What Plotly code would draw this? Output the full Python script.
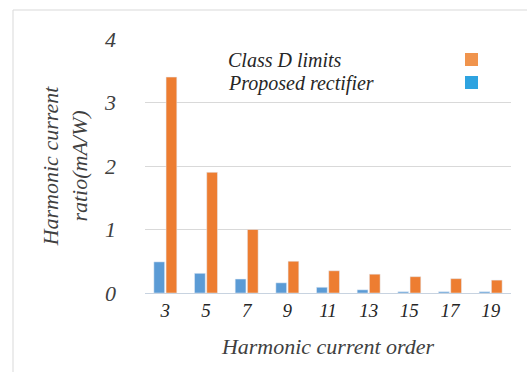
import plotly.graph_objects as go

orders = ["3", "5", "7", "9", "11", "13", "15", "17", "19"]
class_d = [3.4, 1.9, 1.0, 0.5, 0.35, 0.296, 0.257, 0.226, 0.203]
proposed = [0.49, 0.31, 0.22, 0.16, 0.09, 0.05, 0.02, 0.02, 0.02]
y_ticks = [0, 1, 2, 3, 4]

FONT = "Times New Roman"
BLUE = "#5B9BD5"
ORANGE = "#ED7D31"

fig = go.Figure()
fig.add_bar(x=orders, y=proposed, name="Proposed rectifier", marker_color=BLUE)
fig.add_bar(x=orders, y=class_d, name="Class D limits", marker_color=ORANGE)

L, R, T, B = 145, 16, 39, 79
W, H = 527, 372
pw, ph = W - L - R, H - T - B

def px(x):
    return (x - L) / pw

def py(y):
    return (H - B - y) / ph

fig.update_layout(
    width=W, height=H,
    margin=dict(l=L, r=R, t=T, b=B),
    paper_bgcolor="white", plot_bgcolor="white",
    showlegend=False,
    barmode="group", bargap=0.4, bargroupgap=0.12,
)
fig.update_yaxes(
    range=[0, 4], tickvals=y_ticks, ticktext=[f"<i>{v}</i>" for v in y_ticks],
    tickfont=dict(size=22, family=FONT, color="#404040"),
    showgrid=True, gridcolor="#d9d9d9", gridwidth=1, zeroline=False,
    ticklabelstandoff=28,
    title=dict(text="<i>Harmonic current<br>ratio(mA/W)</i>", font=dict(size=22, family=FONT, color="#404040"), standoff=10),
)
fig.update_xaxes(
    tickfont=dict(size=19, family=FONT, color="#262626"),
    ticktext=[f"<i>{o}</i>" for o in orders], tickvals=orders,
    showline=True, linecolor="#c8d3e0", linewidth=1,
    ticklabelstandoff=0,
    title=dict(text="<i>Harmonic current order</i>", font=dict(size=22, family=FONT, color="#404040"), standoff=18),
)

# Outer frame
fig.add_shape(type="rect", xref="paper", yref="paper",
              x0=px(13), x1=px(540), y0=py(385), y1=py(10),
              line=dict(color="#d9d9d9", width=1), layer="below")

# Custom legend (text on the left, swatch on the right)
legend_items = [("Class D limits", "#F0944D", 60), ("Proposed rectifier", "#2EA3E0", 83)]
for text, col, yc in legend_items:
    fig.add_annotation(xref="paper", yref="paper", x=px(226), y=py(yc), xanchor="left", yanchor="middle",
                       text=f"<i>{text}</i>", showarrow=False,
                       font=dict(size=20, family=FONT, color="#262626"))
    fig.add_shape(type="rect", xref="paper", yref="paper",
                  x0=px(465), x1=px(478), y0=py(yc + 6), y1=py(yc - 7),
                  fillcolor=col, line=dict(width=0))

fig.write_html("out.html")
